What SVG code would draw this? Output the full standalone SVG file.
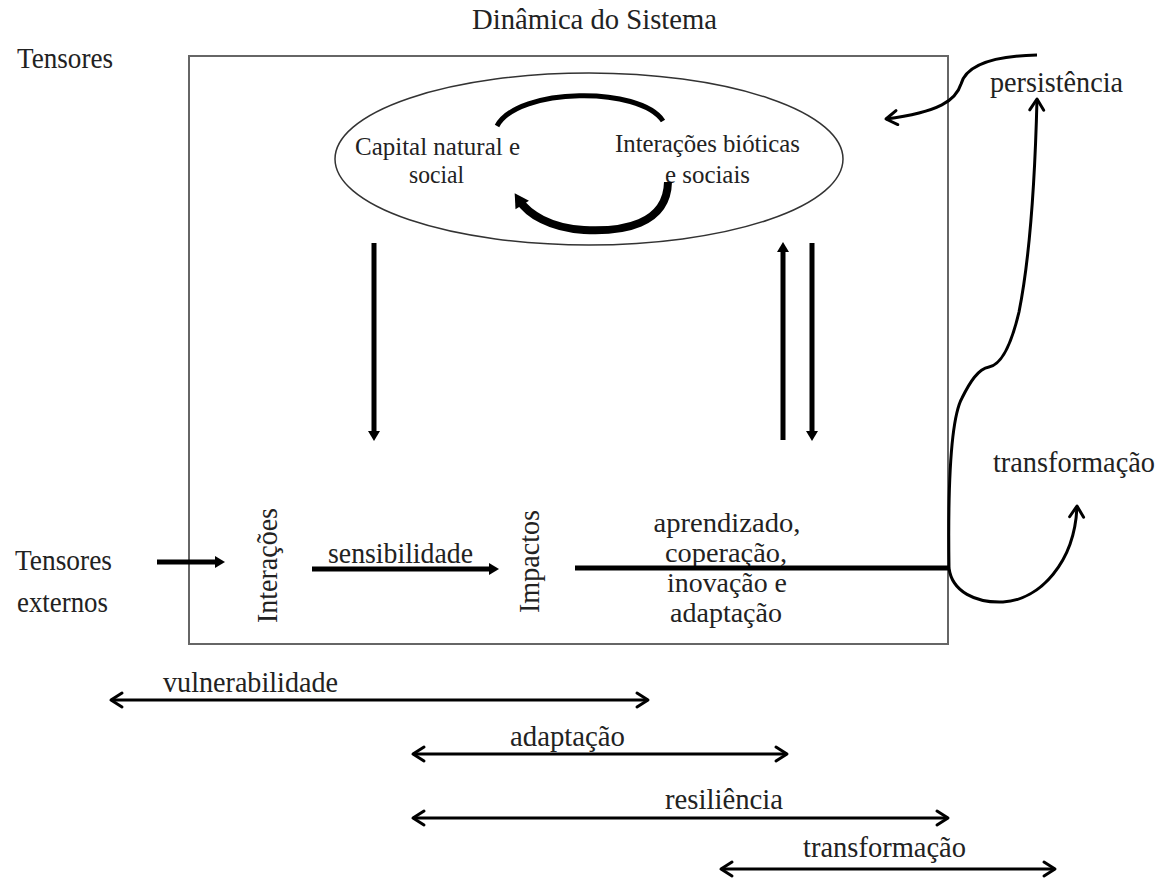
<svg xmlns="http://www.w3.org/2000/svg" width="1166" height="879" viewBox="0 0 1166 879">
<defs>
<style>
text{font-family:"Liberation Serif","Times New Roman",serif;fill:#222;font-size:30px}
.sm{font-size:26px}
.blk{font-size:27px;text-anchor:middle}
.thick{fill:none;stroke:#000;stroke-width:5}
.thin{fill:none;stroke:#000;stroke-width:3}
</style>
<marker id="solid" viewBox="-10 -7 12 14" refX="-9" refY="0" markerWidth="12" markerHeight="14" markerUnits="userSpaceOnUse" orient="auto">
<path d="M-9 -6 L1 0 L-9 6 Z" fill="#000"/>
</marker>
<marker id="open" viewBox="-14 -10 17 20" refX="0" refY="0" markerWidth="17" markerHeight="20" markerUnits="userSpaceOnUse" orient="auto-start-reverse">
<path d="M-11 -7 L0 0 L-11 7" fill="none" stroke="#000" stroke-width="3" stroke-linecap="round" stroke-linejoin="round"/>
</marker>
<marker id="bighead" viewBox="-14 -10 16 20" refX="-6" refY="0" markerWidth="16" markerHeight="20" markerUnits="userSpaceOnUse" orient="auto-start-reverse">
<path d="M-12 -8 L2 0 L-12 8 Z" fill="#000"/>
</marker>
</defs>
<rect width="1166" height="879" fill="#fff"/>

<g id="title"><text x="472" y="29" textLength="245" lengthAdjust="spacingAndGlyphs">Dinâmica do Sistema</text></g>
<g id="tensores"><text x="17" y="68" textLength="96" lengthAdjust="spacingAndGlyphs">Tensores</text></g>

<g id="sistema">
<rect x="189" y="56" width="759" height="588" fill="none" stroke="#666" stroke-width="2"/>
</g>

<g id="ciclo">
<ellipse cx="589" cy="159" rx="254" ry="86" fill="none" stroke="#333" stroke-width="1.5"/>
<text class="sm" x="355" y="155" textLength="165" lengthAdjust="spacingAndGlyphs">Capital natural e</text>
<text class="sm" x="409" y="183" textLength="55" lengthAdjust="spacingAndGlyphs">social</text>
<text class="sm" x="615" y="152" textLength="185" lengthAdjust="spacingAndGlyphs">Interações bióticas</text>
<text class="sm" x="665" y="183" textLength="85" lengthAdjust="spacingAndGlyphs">e sociais</text>
</g>

<g id="interacoes"><text transform="translate(277,623) rotate(-90)" textLength="115" lengthAdjust="spacingAndGlyphs">Interações</text></g>
<g id="impactos"><text transform="translate(539,613) rotate(-90)" textLength="103" lengthAdjust="spacingAndGlyphs">Impactos</text></g>
<g id="tensores-externos">
<text x="15" y="570" textLength="97" lengthAdjust="spacingAndGlyphs">Tensores</text>
<text x="17" y="612" textLength="91" lengthAdjust="spacingAndGlyphs">externos</text>
</g>
<g id="sensibilidade"><text x="328" y="563" textLength="145" lengthAdjust="spacingAndGlyphs">sensibilidade</text></g>
<g id="aprendizado">
<text class="blk" x="727" y="532" textLength="147" lengthAdjust="spacingAndGlyphs">aprendizado,</text>
<text class="blk" x="726" y="562" textLength="122" lengthAdjust="spacingAndGlyphs">coperação,</text>
<text class="blk" x="727" y="592" textLength="120" lengthAdjust="spacingAndGlyphs">inovação e</text>
<text class="blk" x="726" y="622" textLength="112" lengthAdjust="spacingAndGlyphs">adaptação</text>
</g>
<g id="persistencia"><text x="990" y="92" textLength="133" lengthAdjust="spacingAndGlyphs">persistência</text></g>
<g id="transformacao-dir"><text x="993" y="472" textLength="162" lengthAdjust="spacingAndGlyphs">transformação</text></g>

<g id="escalas">
<text x="163" y="692" textLength="175" lengthAdjust="spacingAndGlyphs">vulnerabilidade</text>
<text x="510" y="746" textLength="115" lengthAdjust="spacingAndGlyphs">adaptação</text>
<text x="665" y="809" textLength="118" lengthAdjust="spacingAndGlyphs">resiliência</text>
<text x="803" y="857" textLength="163" lengthAdjust="spacingAndGlyphs">transformação</text>
</g>

<g id="connectors">
<path d="M497 126 C518 87 640 86 663 121" fill="none" stroke="#000" stroke-width="5"/>
<path d="M668 182 C667 225 622 232 584 230 C550 228 528 214 519 200" fill="none" stroke="#000" stroke-width="8" marker-end="url(#bighead)"/>
<line class="thick" x1="374" y1="243" x2="374" y2="431" marker-end="url(#solid)"/>
<line class="thick" x1="783" y1="440" x2="783" y2="252" marker-end="url(#solid)"/>
<line class="thick" x1="812" y1="243" x2="812" y2="431" marker-end="url(#solid)"/>
<line class="thick" x1="157" y1="562" x2="215" y2="562" marker-end="url(#solid)"/>
<line class="thick" x1="312" y1="569" x2="489" y2="569" marker-end="url(#solid)"/>
<line class="thick" x1="575" y1="568" x2="949" y2="568"/>
<path class="thin" d="M949 568 C948 500 950 420 962 398 C970 382 978 369 989 367 C1000 365 1010 350 1019 312 C1029 262 1035 180 1037 99" marker-end="url(#open)"/>
<path class="thin" d="M1037 55 C990 56 966 66 961 84 C956 100 940 112 886 119" marker-end="url(#open)"/>
<path class="thin" d="M949 568 C952 592 976 603 1003 602 C1040 600 1075 562 1077 506" marker-end="url(#open)"/>
<line class="thin" x1="111" y1="700" x2="648" y2="700" marker-start="url(#open)" marker-end="url(#open)"/>
<line class="thin" x1="413" y1="754" x2="787" y2="754" marker-start="url(#open)" marker-end="url(#open)"/>
<line class="thin" x1="413" y1="818" x2="948" y2="818" marker-start="url(#open)" marker-end="url(#open)"/>
<line class="thin" x1="721" y1="869" x2="1055" y2="869" marker-start="url(#open)" marker-end="url(#open)"/>
</g>
</svg>
